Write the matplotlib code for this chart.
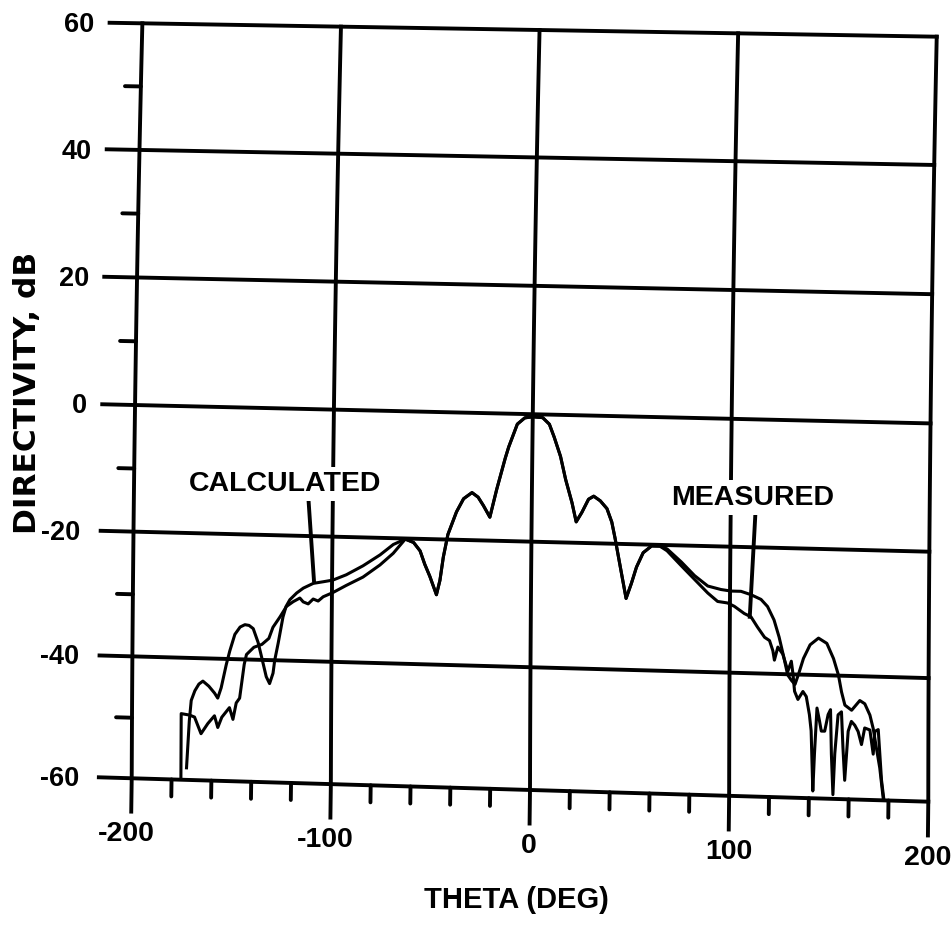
import numpy as np
import matplotlib
matplotlib.use("Agg")
import matplotlib.pyplot as plt
from matplotlib.transforms import Transform

plt.rcParams["font.family"] = ["Liberation Sans", "DejaVu Sans"]
plt.rcParams["font.weight"] = "bold"

# =========================================================
# Directivity (dB) vs theta (deg)
# =========================================================
# main lobe and first sidelobes, where both curves coincide
theta_lobe = [-63.4, -59.2, -55.9, -53.5, -50.9, -47.5, -45.8, -44.2, -42.0, -37.8,
              -34.3, -30.1, -27.0, -24.3, -21.0, -17.7, -13.6, -11.9, -7.7, -4.0,
              0.0, 5.0, 8.4, 10.9, 14.2, 16.9, 20.2, 22.4, 25.2, 28.5,
              31.1, 34.4, 37.8, 40.3, 42.0, 44.5, 47.0, 47.8, 50.4, 52.9,
              56.2, 60.4, 64.6]
dir_lobe = [-20.1, -20.6, -21.9, -24.0, -25.9, -28.8, -26.5, -22.8, -19.2, -15.6,
            -13.5, -12.5, -13.2, -14.5, -16.3, -11.9, -7.0, -5.2, -1.6, -0.6,
            -0.4, -0.5, -1.5, -3.5, -6.5, -10.1, -13.7, -16.7, -15.2, -13.1,
            -12.6, -13.3, -14.5, -16.6, -19.1, -23.2, -27.3, -28.6, -26.2, -23.6,
            -21.3, -20.2, -20.2]

# calculated pattern, wide angles
theta_calc_left = [-172.5, -172.0, -171.2, -170.3, -168.5, -166.5, -164.5, -161.5, -158.6, -157.0,
                   -155.3, -152.8, -151.1, -148.6, -146.0, -143.6, -141.5, -139.4, -136.9, -135.2,
                   -132.7, -131.0, -129.3, -128.5, -126.8, -124.5, -123.0, -121.1, -117.7, -114.4,
                   -109.4, -104.4, -99.6, -92.9, -84.5, -76.0, -69.4]
dir_calc_left = [-58.0, -55.0, -50.2, -46.9, -45.3, -44.2, -43.7, -44.5, -45.6, -46.4,
                 -44.7, -40.9, -38.7, -36.0, -34.8, -34.4, -34.5, -35.0, -37.2, -39.4,
                 -42.7, -43.8, -42.1, -40.0, -37.2, -33.0, -31.3, -30.2, -29.1, -28.3,
                 -27.5, -27.2, -26.9, -26.0, -24.5, -22.7, -21.0]
theta_calc_right = [68.2, 75.4, 82.1, 88.8, 95.5, 100.5, 105.5, 110.6, 115.6, 118.9,
                    122.2, 124.8, 127.3, 129.2, 131.2, 132.9, 134.6, 137.1, 140.4, 144.6,
                    148.8, 152.2, 154.7, 156.3, 158.0, 161.4, 165.5, 168.0, 170.6, 172.3,
                    173.9, 175.6, 177.3]
dir_calc_right = [-20.6, -22.6, -24.7, -26.3, -26.8, -27.0, -27.0, -27.5, -28.2, -29.3,
                  -31.4, -34.1, -37.4, -40.1, -41.0, -41.6, -40.0, -37.4, -35.2, -34.1,
                  -34.9, -37.3, -39.9, -42.6, -44.7, -45.5, -43.9, -44.4, -46.2, -48.4,
                  -51.5, -54.7, -59.5]

# measured pattern, wide angles
theta_meas_left = [-175.3, -175.3, -171.1, -168.6, -165.3, -161.9, -158.6, -156.9, -154.9, -151.1,
                   -149.3, -147.7, -146.0, -143.8, -142.7, -139.0, -135.0, -131.5, -129.5, -126.0,
                   -122.8, -119.4, -116.1, -114.4, -111.9, -109.4, -106.9, -104.4, -101.0, -99.6,
                   -92.9, -84.5, -76.0, -69.4]
dir_meas_left = [-59.5, -49.1, -49.3, -49.6, -52.3, -50.6, -49.3, -51.2, -49.5, -47.9,
                 -49.8, -47.1, -46.3, -40.8, -39.2, -38.0, -37.5, -36.5, -34.7, -33.0,
                 -31.3, -30.5, -29.9, -30.5, -30.8, -30.0, -30.3, -29.6, -29.1, -28.9,
                 -27.7, -26.3, -24.3, -22.4]
theta_meas_right = [68.2, 75.4, 82.1, 88.8, 93.8, 98.8, 102.2, 107.2, 110.6, 113.9,
                    117.5, 120.0, 121.7, 122.5, 124.2, 126.7, 129.3, 131.0, 131.9, 132.7,
                    134.4, 136.9, 138.6, 140.2, 141.1, 142.0, 142.8, 144.0, 145.3, 146.2,
                    147.9, 149.6, 150.8, 151.3, 152.1, 153.0, 154.6, 156.3, 157.1, 158.0,
                    159.7, 161.3, 163.0, 164.7, 166.4, 168.0, 170.6, 172.3, 173.1, 174.8,
                    176.5, 177.6]
dir_meas_right = [-20.9, -23.2, -25.3, -27.4, -28.7, -28.9, -29.4, -30.5, -31.0, -32.6,
                  -34.2, -34.7, -36.3, -37.8, -35.7, -36.8, -39.5, -37.9, -40.0, -42.7,
                  -44.0, -42.7, -43.5, -46.4, -49.0, -58.8, -52.7, -45.3, -47.4, -49.0,
                  -49.0, -46.3, -45.5, -52.7, -59.3, -52.6, -46.3, -45.8, -51.6, -56.9,
                  -48.9, -47.3, -47.9, -48.9, -51.0, -48.3, -48.6, -52.5, -48.8, -48.5,
                  -56.7, -59.6]

theta_calc = theta_calc_left + theta_lobe + theta_calc_right
dir_calc = dir_calc_left + dir_lobe + dir_calc_right
theta_meas = theta_meas_left + theta_lobe + theta_meas_right
dir_meas = dir_meas_left + dir_lobe + dir_meas_right

# axis ticks
x_major = [-200, -100, 0, 100, 200]
x_labels = ["-200", "-100", "0", "100", "200"]
x_minor = [t for t in range(-180, 200, 20) if t % 100 != 0]
y_major = [60, 40, 20, 0, -20, -40, -60]
y_labels = ["60", "40", "20", "0", "-20", "-40", "-60"]
y_minor = [50, 30, 10, -10, -30, -50]


# =========================================================
# Warp of the unit axes square onto a slightly skewed sheet
# =========================================================
class SheetWarp(Transform):
    input_dims = 2
    output_dims = 2
    is_separable = False
    has_inverse = False

    def __init__(self, bl, br, tl, tr, sag=0.0, drift=0.0):
        super().__init__()
        self.corners = [np.asarray(c, float) for c in (bl, br, tl, tr)]
        self.sag = sag
        self.drift = drift

    def transform_non_affine(self, values):
        pts = np.asarray(values, float)
        flat = pts.reshape(-1, 2)
        u = flat[:, :1]
        v = flat[:, 1:]
        bl, br, tl, tr = self.corners
        out = (1 - u) * (1 - v) * bl + u * (1 - v) * br + (1 - u) * v * tl + u * v * tr
        vc = np.clip(v, 0.0, 1.0)
        out[:, 1:] -= self.sag * 6.75 * vc * (1 - vc) ** 2
        out[:, :1] -= self.drift * 4 * vc * (1 - vc)
        return out.reshape(pts.shape)


fig = plt.figure(figsize=(9.53, 9.26), dpi=100)
ax = fig.add_axes([0.1438, 0.1469, 0.8347, 0.8207])
ax.set_xlim(-200, 200)
ax.set_ylim(-60, 60)
ax.set_autoscale_on(False)
ax.axis("off")

sheet = ax.transScale + ax.transLimits + SheetWarp(
    bl=(-0.0067, 0.0154), br=(0.9947, -0.0154),
    tl=(0.0067, 1.0088), tr=(1.0053, 0.9912),
    sag=0.0066, drift=0.0025) + ax.transAxes

ink = dict(color="black", transform=sheet, clip_on=False)
GRID_LW = 2.8

# grid / frame
for y in y_major:
    ax.plot([-216.5, 200], [y, y], lw=GRID_LW, solid_capstyle="projecting", zorder=1, **ink)
for x in x_major:
    ys = np.linspace(-65.3, 60, 80)
    ax.plot(np.full_like(ys, x), ys, lw=GRID_LW, solid_capstyle="projecting", zorder=1, **ink)

# minor ticks
for y in y_minor:
    ax.plot([-208, -200], [y, y], lw=GRID_LW, solid_capstyle="round", zorder=1, **ink)
for x in x_minor:
    ax.plot([x, x], [-60, -62.7], lw=GRID_LW, solid_capstyle="round", zorder=1, **ink)

# tick labels
for y, lab in zip(y_major, y_labels):
    xr = -226.5 if lab.startswith("-") else -224.1
    ax.text(xr, y - 1.5, lab, ha="right", va="baseline", fontsize=19.5, **ink)
for x, lab in zip(x_major, x_labels):
    shift = -2.3 if lab.startswith("-") else 0.0
    ax.text(x + shift, -70.0, lab, ha="center", va="baseline", fontsize=20.5, **ink)

ax.text(-6, -78.7, "THETA (DEG)", ha="center", va="baseline", fontsize=21, **ink)
ax.text(-254, 1.5, "DIRECTIVITY, dB", ha="center", va="center", rotation=90,
        fontsize=22.5, family="DejaVu Sans", **ink)

# curves
ax.plot(theta_calc, dir_calc, lw=2.2, zorder=2, solid_joinstyle="round", **ink)
ax.plot(theta_meas, dir_meas, lw=2.2, zorder=2, solid_joinstyle="round", **ink)

# curve labels with leaders
box = dict(facecolor="white", edgecolor="none", pad=3)
ax.text(-124, -13.0, "CALCULATED", ha="center", va="baseline", fontsize=20.5,
        bbox=box, zorder=3, **ink)
ax.plot([-112.2, -109.1], [-14.4, -27.0], lw=GRID_LW, zorder=2, **ink)
ax.text(111, -13.3, "MEASURED", ha="center", va="baseline", fontsize=20.5,
        bbox=box, zorder=3, **ink)
ax.plot([112.4, 110.0], [-14.9, -31.0], lw=GRID_LW, zorder=2, **ink)

fig.savefig("out.png", dpi=100)
